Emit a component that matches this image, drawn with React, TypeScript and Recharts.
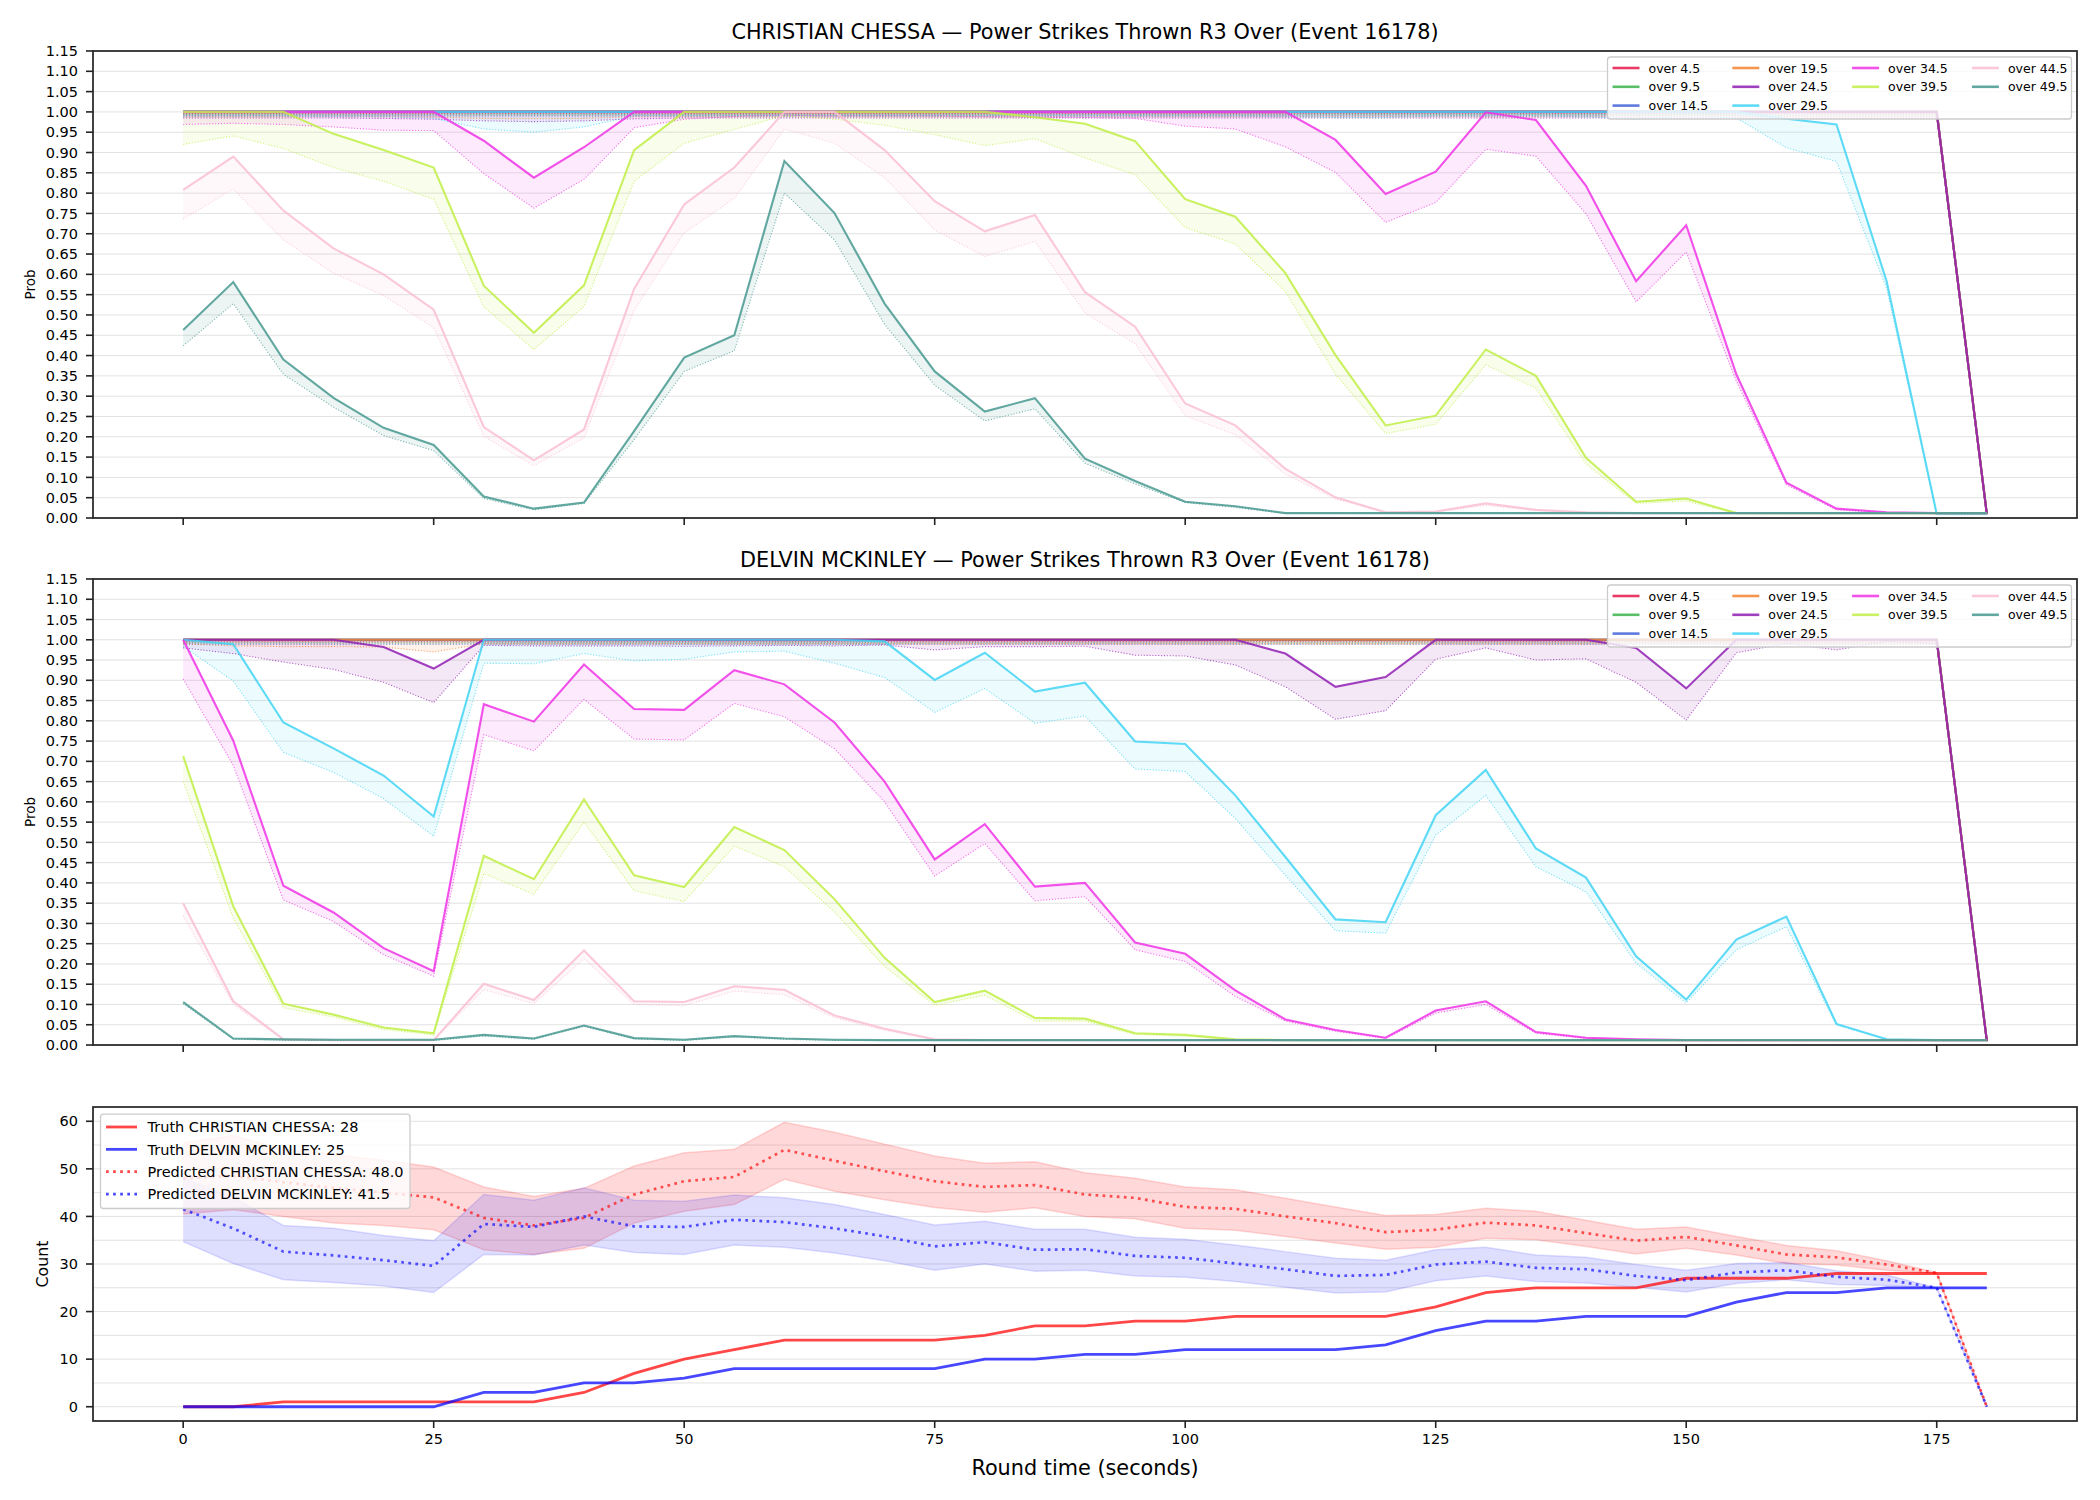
import { ComposedChart, Line, Area, XAxis, YAxis, CartesianGrid } from 'recharts';

const FONT = '"DejaVu Sans", Verdana, sans-serif';

// round time, seconds
const T = [0, 5, 10, 15, 20, 25, 30, 35, 40, 45, 50, 55, 60, 65, 70, 75, 80, 85, 90, 95, 100, 105, 110, 115, 120, 125, 130, 135, 140, 145, 150, 155, 160, 165, 170, 175, 180];
const X_TICKS = [0, 25, 50, 75, 100, 125, 150, 175];
const PROB_TICKS = [0, 0.05, 0.1, 0.15, 0.2, 0.25, 0.3, 0.35, 0.4, 0.45, 0.5, 0.55, 0.6, 0.65, 0.7, 0.75, 0.8, 0.85, 0.9, 0.95, 1, 1.05, 1.1, 1.15];
const COUNT_TICKS = [0, 10, 20, 30, 40, 50, 60];
const COUNT_GRID = [0, 5, 10, 15, 20, 25, 30, 35, 40, 45, 50, 55, 60];

const LINES = ['over 4.5', 'over 9.5', 'over 14.5', 'over 19.5', 'over 24.5', 'over 29.5', 'over 34.5', 'over 39.5', 'over 44.5', 'over 49.5'];
const COLORS = ['#e6194b', '#3cb44b', '#4363d8', '#f58231', '#911eb4', '#42d4f4', '#f032e6', '#bfef45', '#fabed4', '#469990'];

// ---- CHRISTIAN CHESSA: solid = model prob, dotted = lower estimate
const chessaHi4_5 = [
  1, 1, 1, 1, 1, 1, 1, 1, 1, 1,
  1, 1, 1, 1, 1, 1, 1, 1, 1, 1,
  1, 1, 1, 1, 1, 1, 1, 1, 1, 1,
  1, 1, 1, 1, 1, 1, 0.01];
const chessaLo4_5 = [
  0.996, 0.996, 0.996, 0.996, 0.996, 0.996, 0.996, 0.996, 0.996, 0.996,
  0.996, 0.996, 0.996, 0.996, 0.996, 0.996, 0.996, 0.996, 0.996, 0.996,
  0.996, 0.996, 0.996, 0.996, 0.996, 0.996, 0.996, 0.996, 0.996, 0.996,
  0.996, 0.996, 0.996, 0.996, 0.996, 0.996, 0.008];
const chessaHi9_5 = [
  1, 1, 1, 1, 1, 1, 1, 1, 1, 1,
  1, 1, 1, 1, 1, 1, 1, 1, 1, 1,
  1, 1, 1, 1, 1, 1, 1, 1, 1, 1,
  1, 1, 1, 1, 1, 1, 0.01];
const chessaLo9_5 = [
  0.993, 0.993, 0.993, 0.993, 0.993, 0.993, 0.993, 0.993, 0.993, 0.993,
  0.993, 0.993, 0.993, 0.993, 0.993, 0.993, 0.993, 0.993, 0.993, 0.993,
  0.993, 0.993, 0.993, 0.993, 0.993, 0.993, 0.993, 0.993, 0.993, 0.993,
  0.993, 0.993, 0.993, 0.993, 0.993, 0.993, 0.008];
const chessaHi14_5 = [
  1, 1, 1, 1, 1, 1, 1, 1, 1, 1,
  1, 1, 1, 1, 1, 1, 1, 1, 1, 1,
  1, 1, 1, 1, 1, 1, 1, 1, 1, 1,
  1, 1, 1, 1, 1, 1, 0.01];
const chessaLo14_5 = [
  0.99, 0.99, 0.99, 0.99, 0.99, 0.99, 0.99, 0.99, 0.99, 0.99,
  0.99, 0.99, 0.99, 0.99, 0.99, 0.99, 0.99, 0.99, 0.99, 0.99,
  0.99, 0.99, 0.99, 0.99, 0.99, 0.99, 0.99, 0.99, 0.99, 0.99,
  0.99, 0.99, 0.99, 0.99, 0.99, 0.99, 0.008];
const chessaHi19_5 = [
  1, 1, 1, 1, 1, 1, 1, 1, 1, 1,
  1, 1, 1, 1, 1, 1, 1, 1, 1, 1,
  1, 1, 1, 1, 1, 1, 1, 1, 1, 1,
  1, 1, 1, 1, 1, 1, 0.01];
const chessaLo19_5 = [
  0.988, 0.988, 0.988, 0.988, 0.988, 0.987, 0.984, 0.983, 0.984, 0.988,
  0.988, 0.988, 0.988, 0.988, 0.988, 0.988, 0.988, 0.988, 0.988, 0.988,
  0.988, 0.988, 0.988, 0.988, 0.988, 0.988, 0.988, 0.988, 0.988, 0.988,
  0.988, 0.988, 0.988, 0.988, 0.988, 0.988, 0.008];
const chessaHi24_5 = [
  1, 1, 1, 1, 1, 1, 1, 1, 1, 1,
  1, 1, 1, 1, 1, 1, 1, 1, 1, 1,
  1, 1, 1, 1, 1, 1, 1, 1, 1, 1,
  1, 1, 1, 1, 1, 1, 0.01];
const chessaLo24_5 = [
  0.985, 0.985, 0.985, 0.985, 0.984, 0.982, 0.978, 0.976, 0.978, 0.983,
  0.985, 0.985, 0.985, 0.985, 0.985, 0.985, 0.985, 0.985, 0.985, 0.985,
  0.985, 0.985, 0.985, 0.985, 0.985, 0.985, 0.985, 0.985, 0.985, 0.985,
  0.985, 0.985, 0.985, 0.985, 0.985, 0.985, 0.008];
const chessaHi29_5 = [
  1, 1, 1, 1, 1, 1, 1, 1, 1, 1,
  1, 1, 1, 1, 1, 1, 1, 1, 1, 1,
  1, 1, 1, 1, 1, 1, 1, 1, 1, 1,
  1, 1, 0.983, 0.969, 0.583, 0.01, 0.01];
const chessaLo29_5 = [
  0.99, 0.99, 0.99, 0.988, 0.988, 0.984, 0.958, 0.95, 0.963, 0.99,
  0.99, 0.99, 0.99, 0.99, 0.99, 0.99, 0.99, 0.99, 0.99, 0.99,
  0.99, 0.99, 0.988, 0.986, 0.986, 0.99, 0.99, 0.99, 0.988, 0.982,
  0.99, 0.985, 0.912, 0.878, 0.566, 0.008, 0.008];
const chessaHi34_5 = [
  1, 1, 1, 1, 1, 1, 0.929, 0.838, 0.913, 1,
  1, 1, 1, 1, 1, 1, 1, 1, 1, 1,
  1, 1, 1, 0.931, 0.798, 0.853, 0.999, 0.98, 0.818, 0.583,
  0.721, 0.354, 0.087, 0.023, 0.014, 0.012, 0.012];
const chessaLo34_5 = [
  0.969, 0.972, 0.969, 0.963, 0.955, 0.954, 0.848, 0.763, 0.834, 0.961,
  0.982, 0.989, 0.992, 0.99, 0.99, 0.99, 0.988, 0.987, 0.986, 0.984,
  0.965, 0.958, 0.914, 0.851, 0.728, 0.777, 0.908, 0.891, 0.749, 0.532,
  0.655, 0.337, 0.082, 0.02, 0.013, 0.011, 0.011];
const chessaHi39_5 = [
  1, 1, 1, 0.946, 0.906, 0.863, 0.572, 0.456, 0.573, 0.906,
  1, 1, 1, 1, 1, 1, 1, 0.987, 0.971, 0.928,
  0.785, 0.742, 0.603, 0.401, 0.228, 0.252, 0.415, 0.35, 0.148, 0.04,
  0.048, 0.012, 0.012, 0.012, 0.012, 0.012, 0.012];
const chessaLo39_5 = [
  0.92, 0.941, 0.91, 0.863, 0.829, 0.785, 0.52, 0.415, 0.521, 0.829,
  0.923, 0.957, 0.991, 0.982, 0.967, 0.944, 0.917, 0.934, 0.887, 0.845,
  0.715, 0.675, 0.558, 0.354, 0.208, 0.231, 0.377, 0.32, 0.133, 0.036,
  0.042, 0.011, 0.011, 0.011, 0.011, 0.011, 0.011];
const chessaHi44_5 = [
  0.808, 0.89, 0.757, 0.664, 0.6, 0.513, 0.224, 0.142, 0.218, 0.564,
  0.772, 0.863, 1, 1, 0.906, 0.78, 0.706, 0.746, 0.556, 0.471,
  0.282, 0.228, 0.121, 0.051, 0.014, 0.016, 0.036, 0.02, 0.014, 0.012,
  0.012, 0.012, 0.012, 0.012, 0.012, 0.012, 0.012];
const chessaLo44_5 = [
  0.736, 0.81, 0.685, 0.603, 0.548, 0.469, 0.201, 0.129, 0.197, 0.511,
  0.702, 0.787, 0.958, 0.923, 0.838, 0.709, 0.644, 0.681, 0.505, 0.429,
  0.252, 0.205, 0.108, 0.047, 0.013, 0.014, 0.031, 0.018, 0.013, 0.011,
  0.011, 0.011, 0.011, 0.011, 0.011, 0.011, 0.011];
const chessaHi49_5 = [
  0.463, 0.581, 0.39, 0.296, 0.222, 0.18, 0.053, 0.023, 0.038, 0.214,
  0.395, 0.45, 0.879, 0.751, 0.528, 0.361, 0.262, 0.295, 0.146, 0.091,
  0.04, 0.029, 0.012, 0.012, 0.012, 0.012, 0.012, 0.012, 0.012, 0.012,
  0.012, 0.012, 0.012, 0.012, 0.012, 0.012, 0.012];
const chessaLo49_5 = [
  0.424, 0.528, 0.354, 0.273, 0.203, 0.166, 0.048, 0.02, 0.036, 0.193,
  0.361, 0.412, 0.8, 0.685, 0.477, 0.327, 0.239, 0.269, 0.135, 0.084,
  0.038, 0.026, 0.011, 0.011, 0.011, 0.011, 0.011, 0.011, 0.011, 0.011,
  0.011, 0.011, 0.011, 0.011, 0.011, 0.011, 0.011];

// ---- DELVIN MCKINLEY
const delvinHi4_5 = [
  1, 1, 1, 1, 1, 1, 1, 1, 1, 1,
  1, 1, 1, 1, 1, 1, 1, 1, 1, 1,
  1, 1, 1, 1, 1, 1, 1, 1, 1, 1,
  1, 1, 1, 1, 1, 1, 0.01];
const delvinLo4_5 = [
  0.995, 0.995, 0.995, 0.995, 0.995, 0.995, 0.995, 0.995, 0.995, 0.995,
  0.995, 0.995, 0.995, 0.995, 0.995, 0.995, 0.995, 0.995, 0.995, 0.995,
  0.995, 0.995, 0.995, 0.995, 0.995, 0.995, 0.995, 0.995, 0.995, 0.995,
  0.995, 0.995, 0.995, 0.995, 0.995, 0.995, 0.008];
const delvinHi9_5 = [
  1, 1, 1, 1, 1, 1, 1, 1, 1, 1,
  1, 1, 1, 1, 1, 1, 1, 1, 1, 1,
  1, 1, 1, 1, 1, 1, 1, 1, 1, 1,
  1, 1, 1, 1, 1, 1, 0.01];
const delvinLo9_5 = [
  0.992, 0.992, 0.992, 0.992, 0.992, 0.992, 0.992, 0.992, 0.992, 0.992,
  0.992, 0.992, 0.992, 0.992, 0.992, 0.992, 0.992, 0.992, 0.992, 0.992,
  0.992, 0.992, 0.992, 0.992, 0.992, 0.992, 0.992, 0.992, 0.992, 0.992,
  0.992, 0.992, 0.992, 0.992, 0.992, 0.992, 0.008];
const delvinHi14_5 = [
  1, 1, 1, 1, 1, 1, 1, 1, 1, 1,
  1, 1, 1, 1, 1, 1, 1, 1, 1, 1,
  1, 1, 1, 1, 1, 1, 1, 1, 1, 1,
  1, 1, 1, 1, 1, 1, 0.01];
const delvinLo14_5 = [
  0.989, 0.989, 0.989, 0.989, 0.989, 0.989, 0.989, 0.989, 0.989, 0.989,
  0.989, 0.989, 0.989, 0.989, 0.989, 0.989, 0.989, 0.989, 0.989, 0.989,
  0.989, 0.989, 0.989, 0.989, 0.989, 0.989, 0.989, 0.989, 0.989, 0.989,
  0.989, 0.989, 0.989, 0.989, 0.989, 0.989, 0.008];
const delvinHi19_5 = [
  1, 1, 1, 1, 1, 1, 1, 1, 1, 1,
  1, 1, 1, 1, 1, 1, 1, 1, 1, 1,
  1, 1, 1, 1, 1, 1, 1, 1, 1, 1,
  1, 1, 1, 1, 1, 1, 0.01];
const delvinLo19_5 = [
  0.99, 0.985, 0.983, 0.983, 0.982, 0.97, 0.99, 0.99, 0.99, 0.99,
  0.99, 0.99, 0.99, 0.99, 0.99, 0.99, 0.99, 0.99, 0.99, 0.99,
  0.99, 0.99, 0.99, 0.99, 0.99, 0.99, 0.99, 0.99, 0.99, 0.99,
  0.99, 0.99, 0.99, 0.99, 0.99, 0.99, 0.008];
const delvinHi24_5 = [
  1, 1, 1, 1, 0.982, 0.929, 1, 1, 1, 1,
  1, 1, 1, 1, 1, 1, 1, 1, 1, 1,
  1, 1, 0.966, 0.884, 0.908, 1, 1, 1, 1, 0.98,
  0.88, 1, 1, 1, 1, 1, 0.01];
const delvinLo24_5 = [
  0.98, 0.966, 0.945, 0.927, 0.895, 0.845, 0.986, 0.985, 0.985, 0.985,
  0.984, 0.985, 0.986, 0.985, 0.987, 0.975, 0.983, 0.983, 0.984, 0.962,
  0.96, 0.938, 0.884, 0.804, 0.825, 0.952, 0.98, 0.95, 0.953, 0.895,
  0.802, 0.968, 0.991, 0.975, 0.996, 0.99, 0.008];
const delvinHi29_5 = [
  1, 0.989, 0.796, 0.732, 0.665, 0.564, 1, 1, 1, 1,
  1, 1, 1, 1, 0.996, 0.901, 0.968, 0.872, 0.894, 0.749,
  0.743, 0.616, 0.464, 0.31, 0.303, 0.567, 0.679, 0.485, 0.413, 0.219,
  0.112, 0.26, 0.317, 0.052, 0.014, 0.012, 0.012];
const delvinLo29_5 = [
  0.984, 0.898, 0.722, 0.673, 0.608, 0.515, 0.942, 0.941, 0.966, 0.948,
  0.952, 0.97, 0.972, 0.942, 0.907, 0.821, 0.88, 0.794, 0.812, 0.681,
  0.675, 0.559, 0.419, 0.282, 0.276, 0.518, 0.616, 0.44, 0.378, 0.202,
  0.104, 0.235, 0.292, 0.049, 0.013, 0.011, 0.011];
const delvinHi34_5 = [
  1, 0.751, 0.393, 0.327, 0.239, 0.182, 0.841, 0.798, 0.939, 0.829,
  0.827, 0.925, 0.89, 0.796, 0.65, 0.458, 0.545, 0.391, 0.4, 0.253,
  0.225, 0.135, 0.063, 0.037, 0.018, 0.085, 0.108, 0.032, 0.018, 0.014,
  0.012, 0.012, 0.012, 0.012, 0.012, 0.012, 0.012];
const delvinLo34_5 = [
  0.903, 0.69, 0.358, 0.305, 0.223, 0.17, 0.766, 0.726, 0.853, 0.755,
  0.753, 0.843, 0.81, 0.731, 0.6, 0.417, 0.497, 0.356, 0.366, 0.235,
  0.206, 0.12, 0.059, 0.034, 0.016, 0.079, 0.1, 0.029, 0.016, 0.013,
  0.011, 0.011, 0.011, 0.011, 0.011, 0.011, 0.011];
const delvinHi39_5 = [
  0.713, 0.342, 0.102, 0.075, 0.043, 0.029, 0.467, 0.409, 0.606, 0.419,
  0.39, 0.538, 0.481, 0.36, 0.215, 0.106, 0.134, 0.067, 0.065, 0.029,
  0.025, 0.014, 0.012, 0.012, 0.012, 0.012, 0.012, 0.012, 0.012, 0.012,
  0.012, 0.012, 0.012, 0.012, 0.012, 0.012, 0.012];
const delvinLo39_5 = [
  0.65, 0.313, 0.092, 0.069, 0.038, 0.025, 0.423, 0.372, 0.55, 0.381,
  0.354, 0.491, 0.44, 0.328, 0.194, 0.098, 0.123, 0.059, 0.059, 0.026,
  0.022, 0.013, 0.011, 0.011, 0.011, 0.011, 0.011, 0.011, 0.011, 0.011,
  0.011, 0.011, 0.011, 0.011, 0.011, 0.011, 0.011];
const delvinHi44_5 = [
  0.35, 0.108, 0.014, 0.012, 0.012, 0.012, 0.151, 0.111, 0.233, 0.108,
  0.106, 0.145, 0.136, 0.073, 0.04, 0.014, 0.012, 0.012, 0.012, 0.012,
  0.012, 0.012, 0.012, 0.012, 0.012, 0.012, 0.012, 0.012, 0.012, 0.012,
  0.012, 0.012, 0.012, 0.012, 0.012, 0.012, 0.012];
const delvinLo44_5 = [
  0.319, 0.1, 0.012, 0.011, 0.011, 0.011, 0.137, 0.102, 0.213, 0.1,
  0.097, 0.133, 0.124, 0.067, 0.036, 0.013, 0.011, 0.011, 0.011, 0.011,
  0.011, 0.011, 0.011, 0.011, 0.011, 0.011, 0.011, 0.011, 0.011, 0.011,
  0.011, 0.011, 0.011, 0.011, 0.011, 0.011, 0.011];
const delvinHi49_5 = [
  0.106, 0.016, 0.014, 0.013, 0.013, 0.013, 0.025, 0.016, 0.048, 0.017,
  0.013, 0.022, 0.016, 0.013, 0.012, 0.012, 0.012, 0.012, 0.012, 0.012,
  0.012, 0.012, 0.012, 0.012, 0.012, 0.012, 0.012, 0.012, 0.012, 0.012,
  0.012, 0.012, 0.012, 0.012, 0.012, 0.012, 0.012];
const delvinLo49_5 = [
  0.102, 0.014, 0.012, 0.011, 0.011, 0.011, 0.022, 0.014, 0.046, 0.015,
  0.011, 0.02, 0.014, 0.011, 0.011, 0.011, 0.011, 0.011, 0.011, 0.011,
  0.011, 0.011, 0.011, 0.011, 0.011, 0.011, 0.011, 0.011, 0.011, 0.011,
  0.011, 0.011, 0.011, 0.011, 0.011, 0.011, 0.011];

// ---- cumulative counts
const truthChessa = [0, 0, 1, 1, 1, 1, 1, 1, 3, 7, 10, 12, 14, 14, 14, 14, 15, 17, 17, 18, 18, 19, 19, 19, 19, 21, 24, 25, 25, 25, 27, 27, 27, 28, 28, 28, 28];
const truthDelvin = [0, 0, 0, 0, 0, 0, 3, 3, 5, 5, 6, 8, 8, 8, 8, 8, 10, 10, 11, 11, 12, 12, 12, 12, 13, 16, 18, 18, 19, 19, 19, 22, 24, 24, 25, 25, 25];
const predChessa = [48, 48.5, 47.2, 46, 45, 44, 39.7, 38.1, 39.7, 44.6, 47.4, 48.3, 54, 51.7, 49.5, 47.4, 46.2, 46.6, 44.6, 43.9, 42, 41.6, 40, 38.6, 36.7, 37.2, 38.7, 38.1, 36.5, 34.9, 35.7, 33.9, 32, 31.4, 29.9, 28.1, 0];
const predChessaHi = [55.5, 57, 54.2, 53, 51.8, 50.4, 46.2, 44.2, 45.9, 50.6, 53.4, 54.1, 59.8, 57.7, 55.2, 52.7, 51.2, 51.5, 49.2, 48, 46.2, 45.6, 43.8, 42, 40.2, 40.4, 41.7, 41.1, 39.2, 37.3, 37.8, 35.8, 33.9, 32.8, 30.7, 28.2, 0];
const predChessaLo = [40.5, 41.4, 40, 38.6, 38.1, 37.2, 33, 32, 33.3, 38.6, 41.1, 42.5, 47.8, 45.3, 43.5, 41.9, 40.9, 41.8, 40, 39.5, 37.5, 37.1, 35.8, 34.4, 33.1, 33.5, 35.4, 35.1, 33.7, 32.1, 33.3, 31.9, 30.1, 29.8, 28.7, 28, 0];
const predDelvin = [41.5, 37.5, 32.6, 31.8, 30.8, 29.6, 38.4, 37.8, 40, 37.9, 37.8, 39.3, 38.8, 37.5, 35.8, 33.7, 34.6, 33, 33.1, 31.7, 31.3, 30.1, 28.9, 27.5, 27.7, 29.9, 30.5, 29.2, 28.9, 27.5, 26.6, 28.2, 28.7, 27.3, 26.7, 25, 0];
const predDelvinHi = [48.1, 44, 38.1, 37.5, 36, 34.9, 44.6, 43.4, 46, 43.4, 43.2, 44.5, 43.9, 42.5, 40.4, 38.2, 39, 37.3, 37.3, 35.6, 35.2, 34, 32.6, 31.2, 30.8, 33, 33.5, 31.9, 31.4, 29.9, 28.7, 30.1, 30.3, 28.6, 27.7, 25, 0];
const predDelvinLo = [34.7, 30.1, 26.7, 26.1, 25.4, 24, 32, 31.9, 34, 32.4, 32, 34, 33.5, 32.3, 30.7, 28.7, 30, 28.5, 28.7, 27.5, 27.2, 26.3, 25.1, 23.9, 24.1, 26.5, 27.5, 26.3, 26, 25.1, 24.1, 25.9, 26.7, 25.7, 25.5, 25, 0];

const CHESSA_HI = [chessaHi4_5, chessaHi9_5, chessaHi14_5, chessaHi19_5, chessaHi24_5, chessaHi29_5, chessaHi34_5, chessaHi39_5, chessaHi44_5, chessaHi49_5];
const CHESSA_LO = [chessaLo4_5, chessaLo9_5, chessaLo14_5, chessaLo19_5, chessaLo24_5, chessaLo29_5, chessaLo34_5, chessaLo39_5, chessaLo44_5, chessaLo49_5];
const DELVIN_HI = [delvinHi4_5, delvinHi9_5, delvinHi14_5, delvinHi19_5, delvinHi24_5, delvinHi29_5, delvinHi34_5, delvinHi39_5, delvinHi44_5, delvinHi49_5];
const DELVIN_LO = [delvinLo4_5, delvinLo9_5, delvinLo14_5, delvinLo19_5, delvinLo24_5, delvinLo29_5, delvinLo34_5, delvinLo39_5, delvinLo44_5, delvinLo49_5];

// layout
const W = 2100;
const PLOT_L = 93;
const PLOT_R = 2077;
const PANELS = [
  { top: 51, h: 467, title: 'CHRISTIAN CHESSA — Power Strikes Thrown R3 Over (Event 16178)' },
  { top: 579, h: 466, title: 'DELVIN MCKINLEY — Power Strikes Thrown R3 Over (Event 16178)' },
];
const COUNT_PANEL = { top: 1107, h: 314 };
const AXIS = '#222';

function probRows(hi: number[][], lo: number[][]) {
  return T.map((t, i) => {
    const row: Record<string, any> = { t };
    hi.forEach((s, k) => {
      row['h' + k] = s[i];
      row['l' + k] = lo[k][i];
      row['b' + k] = [lo[k][i], s[i]];
    });
    return row;
  });
}

const tickStyle = { fontSize: 14.5, fill: '#000', fontFamily: FONT };

function ProbChart({ top, h, rows }: { top: number; h: number; rows: any[] }) {
  const pad = 10;
  return (
    <div style={{ position: 'absolute', left: 0, top: top - pad }}>
      <ComposedChart width={W} height={h + pad + 30} data={rows} margin={{ top: pad, right: W - PLOT_R, bottom: 0, left: 0 }}>
        <CartesianGrid vertical={false} stroke="#e2e2e2" strokeWidth={1} />
        <XAxis dataKey="t" type="number" domain={[-9, 189]} ticks={X_TICKS} interval={0} allowDataOverflow
          tickFormatter={() => ''} height={30} tickSize={7} axisLine={false} tickLine={{ stroke: AXIS, strokeWidth: 1.6 }} />
        <YAxis type="number" domain={[0, 1.15]} ticks={PROB_TICKS} interval={0} width={PLOT_L} allowDataOverflow
          tickSize={7} tickMargin={8} axisLine={false} tickLine={{ stroke: AXIS, strokeWidth: 1.6 }}
          tick={tickStyle} tickFormatter={(v: number) => v.toFixed(2)} />
        {LINES.flatMap((name, k) => [
          <Area key={'b' + k} dataKey={'b' + k} type="linear" stroke="none" fill={COLORS[k]} fillOpacity={0.1}
            dot={false} activeDot={false} isAnimationActive={false} />,
          <Line key={'h' + k} dataKey={'h' + k} name={name} type="linear" stroke={COLORS[k]} strokeWidth={2.1}
            strokeOpacity={0.85} dot={false} activeDot={false} isAnimationActive={false} />,
          <Line key={'l' + k} dataKey={'l' + k} type="linear" stroke={COLORS[k]} strokeWidth={1.1}
            strokeOpacity={0.7} strokeDasharray="1.1 1.8" dot={false} activeDot={false} isAnimationActive={false} />,
        ])}
      </ComposedChart>
    </div>
  );
}

const countRows = T.map((t, i) => ({
  t,
  truthC: truthChessa[i],
  truthD: truthDelvin[i],
  predC: predChessa[i],
  predD: predDelvin[i],
  bandC: [predChessaLo[i], predChessaHi[i]],
  bandD: [predDelvinLo[i], predDelvinHi[i]],
}));

function CountChart() {
  const pad = 10;
  const { top, h } = COUNT_PANEL;
  return (
    <div style={{ position: 'absolute', left: 0, top: top - pad }}>
      <ComposedChart width={W} height={h + pad + 45} data={countRows} margin={{ top: pad, right: W - PLOT_R, bottom: 0, left: 0 }}>
        <CartesianGrid vertical={false} horizontalValues={COUNT_GRID} stroke="#e2e2e2" strokeWidth={1} />
        <XAxis dataKey="t" type="number" domain={[-9, 189]} ticks={X_TICKS} interval={0} allowDataOverflow
          height={45} tickSize={7} tickMargin={6} axisLine={false} tickLine={{ stroke: AXIS, strokeWidth: 1.6 }} tick={tickStyle} />
        <YAxis type="number" domain={[-3, 63]} ticks={COUNT_TICKS} interval={0} width={PLOT_L} allowDataOverflow
          tickSize={7} tickMargin={8} axisLine={false} tickLine={{ stroke: AXIS, strokeWidth: 1.6 }} tick={tickStyle} />
        <Area dataKey="bandC" type="linear" stroke="#ff0000" strokeOpacity={0.15} strokeWidth={1.5} fill="#ff0000" fillOpacity={0.15}
          dot={false} activeDot={false} isAnimationActive={false} />
        <Area dataKey="bandD" type="linear" stroke="#0000ff" strokeOpacity={0.12} strokeWidth={1.5} fill="#0000ff" fillOpacity={0.13}
          dot={false} activeDot={false} isAnimationActive={false} />
        <Line dataKey="truthC" type="linear" stroke="#ff0000" strokeOpacity={0.72} strokeWidth={2.8} dot={false} activeDot={false} isAnimationActive={false} />
        <Line dataKey="truthD" type="linear" stroke="#0000ff" strokeOpacity={0.72} strokeWidth={2.8} dot={false} activeDot={false} isAnimationActive={false} />
        <Line dataKey="predC" type="linear" stroke="#ff0000" strokeOpacity={0.65} strokeWidth={2.7} strokeDasharray="2.7 4.4"
          dot={false} activeDot={false} isAnimationActive={false} />
        <Line dataKey="predD" type="linear" stroke="#0000ff" strokeOpacity={0.65} strokeWidth={2.7} strokeDasharray="2.7 4.4"
          dot={false} activeDot={false} isAnimationActive={false} />
      </ComposedChart>
    </div>
  );
}

// legend column/row for matplotlib-style ncol=4 layout (3,3,2,2)
const LEGEND_SLOTS = [[0, 0], [0, 1], [0, 2], [1, 0], [1, 1], [1, 2], [2, 0], [2, 1], [3, 0], [3, 1]];

function ProbLegend({ top }: { top: number }) {
  const x0 = 1607.5;
  const y0 = top + 6;
  return (
    <g>
      <rect x={x0} y={y0} width={464} height={62} rx={3} fill="#fff" fillOpacity={0.8} stroke="#cccccc" strokeWidth={1.3} />
      {LINES.map((name, k) => {
        const [c, r] = LEGEND_SLOTS[k];
        const lx = x0 + 5 + c * 119.8;
        const ly = y0 + 11 + r * 18.8;
        return (
          <g key={name}>
            <line x1={lx} x2={lx + 27} y1={ly} y2={ly} stroke={COLORS[k]} strokeOpacity={0.85} strokeWidth={2.6} />
            <text x={lx + 36} y={ly + 4.6} fontSize={12.5} fontFamily={FONT} fill="#000">{name}</text>
          </g>
        );
      })}
    </g>
  );
}

const COUNT_LEGEND = [
  { label: 'Truth CHRISTIAN CHESSA: 28', color: '#ff0000', dash: undefined },
  { label: 'Truth DELVIN MCKINLEY: 25', color: '#0000ff', dash: undefined },
  { label: 'Predicted CHRISTIAN CHESSA: 48.0', color: '#ff0000', dash: '2.7 4.4' },
  { label: 'Predicted DELVIN MCKINLEY: 41.5', color: '#0000ff', dash: '2.7 4.4' },
];

function CountLegend() {
  const x0 = 100.5;
  const y0 = 1114.2;
  return (
    <g>
      <rect x={x0} y={y0} width={309.5} height={94.3} rx={3} fill="#fff" fillOpacity={0.8} stroke="#cccccc" strokeWidth={1.3} />
      {COUNT_LEGEND.map((e, i) => {
        const ly = y0 + 12.8 + i * 22.35;
        return (
          <g key={e.label}>
            <line x1={x0 + 5.5} x2={x0 + 36.5} y1={ly} y2={ly} stroke={e.color} strokeOpacity={0.72} strokeWidth={2.8} strokeDasharray={e.dash} />
            <text x={x0 + 47} y={ly + 5.3} fontSize={14.5} fontFamily={FONT} fill="#000">{e.label}</text>
          </g>
        );
      })}
    </g>
  );
}

function Frame({ top, h }: { top: number; h: number }) {
  return <rect x={PLOT_L} y={top} width={PLOT_R - PLOT_L} height={h} fill="none" stroke={AXIS} strokeWidth={1.7} />;
}

export default function App() {
  const rows1 = probRows(CHESSA_HI, CHESSA_LO);
  const rows2 = probRows(DELVIN_HI, DELVIN_LO);
  const cx = (PLOT_L + PLOT_R) / 2;
  return (
    <div style={{ position: 'absolute', left: 0, top: 0, width: W, height: 1500, background: '#fff', overflow: 'hidden' }}>
      <ProbChart top={PANELS[0].top} h={PANELS[0].h} rows={rows1} />
      <ProbChart top={PANELS[1].top} h={PANELS[1].h} rows={rows2} />
      <CountChart />
      <svg width={W} height={1500} style={{ position: 'absolute', left: 0, top: 0, pointerEvents: 'none' }}>
        {PANELS.map((p) => (
          <g key={p.title}>
            <Frame top={p.top} h={p.h} />
            <text x={cx} y={p.top - 12.5} textAnchor="middle" fontSize={20.8} fontFamily={FONT} fill="#000">{p.title}</text>
            <text transform={`translate(35 ${p.top + p.h / 2}) rotate(-90)`} textAnchor="middle" fontSize={13.5} fontFamily={FONT} fill="#000">Prob</text>
            <ProbLegend top={p.top} />
          </g>
        ))}
        <Frame top={COUNT_PANEL.top} h={COUNT_PANEL.h} />
        <text transform={`translate(48 ${COUNT_PANEL.top + COUNT_PANEL.h / 2}) rotate(-90)`} textAnchor="middle" fontSize={15.8} fontFamily={FONT} fill="#000">Count</text>
        <text x={cx} y={1475} textAnchor="middle" fontSize={20.8} fontFamily={FONT} fill="#000">Round time (seconds)</text>
        <CountLegend />
      </svg>
    </div>
  );
}
